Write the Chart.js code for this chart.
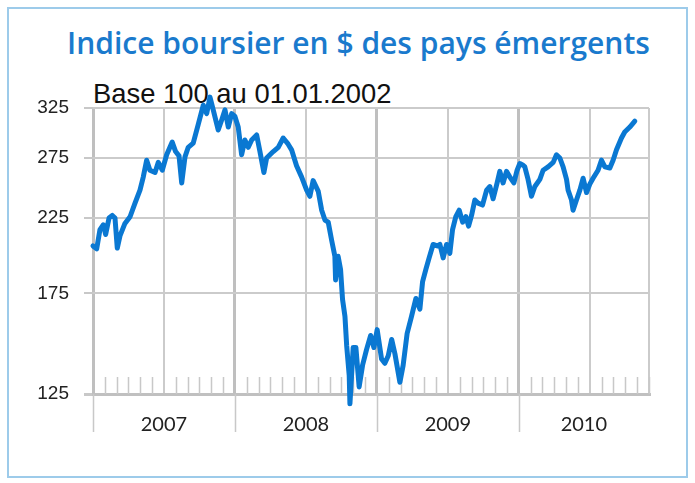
<!DOCTYPE html>
<html><head><meta charset="utf-8">
<script src="https://cdn.jsdelivr.net/npm/chart.js@4.4.0/dist/chart.umd.min.js"></script>
<style>
html,body{margin:0;padding:0;background:#fff;}
#wrap{position:relative;width:695px;height:483px;overflow:hidden;background:#fff;}
#frame{position:absolute;left:7px;top:7px;width:677px;height:467px;border:2px solid #9dcbea;}
#title{position:absolute;left:0;width:717px;text-align:center;top:23px;font:600 30px "Open Sans";color:#1a7acd;white-space:nowrap;line-height:40px;}
#sub{position:absolute;left:93px;top:79px;font:27.4px "Liberation Sans";color:#111;white-space:nowrap;line-height:30px;}
canvas{position:absolute;left:0;top:0;}
</style></head>
<body><div id="wrap">
<div id="frame"></div>
<div id="title">Indice boursier en $ des pays émergents</div>
<div id="sub">Base 100 au 01.01.2002</div>
<canvas id="c" width="695" height="483"></canvas>
</div>
<script>
// decimal years
const dates = [2007.000,2007.026,2007.049,2007.073,2007.089,2007.113,2007.136,2007.155,2007.171,2007.190,2007.225,2007.261,2007.296,2007.331,2007.354,2007.378,2007.401,2007.437,2007.460,2007.488,2007.519,2007.558,2007.582,2007.606,2007.625,2007.648,2007.671,2007.706,2007.742,2007.777,2007.801,2007.824,2007.847,2007.882,2007.906,2007.930,2007.953,2007.977,2008.000,
2008.023,2008.047,2008.070,2008.094,2008.118,2008.153,2008.176,2008.204,2008.223,2008.270,2008.305,2008.340,2008.375,2008.399,2008.434,2008.470,2008.505,2008.528,2008.551,2008.587,2008.611,2008.634,2008.657,2008.681,2008.704,2008.709,2008.727,2008.744,2008.758,2008.775,2008.787,2008.805,2008.810,2008.833,2008.852,2008.875,2008.899,2008.927,2008.956,2008.979,
2009.002,2009.033,2009.056,2009.080,2009.104,2009.127,2009.162,2009.185,2009.213,2009.244,2009.275,2009.303,2009.322,2009.345,2009.368,2009.396,2009.425,2009.444,2009.467,2009.491,2009.514,2009.533,2009.556,2009.580,2009.604,2009.627,2009.646,2009.667,2009.690,2009.713,2009.744,2009.773,2009.796,2009.819,2009.847,2009.866,2009.889,2009.913,2009.937,2009.965,2009.988,
2010.007,2010.030,2010.042,2010.065,2010.089,2010.113,2010.148,2010.171,2010.206,2010.242,2010.265,2010.289,2010.312,2010.336,2010.347,2010.371,2010.382,2010.406,2010.430,2010.453,2010.477,2010.500,2010.523,2010.558,2010.582,2010.606,2010.641,2010.664,2010.688,2010.723,2010.746,2010.782,2010.817];
const values = [205,203,216.5,220,213,225,227,225,203.5,212,221,226,236.5,247,258,273,264,262,271,264,278,290,281,277,253,276,285,289,308,328,319,337,323,302,312,323,305,319,316,
305,278,292,285,292,297,281,262,275,281,285,294,288,282.6,268,258,247,242,255,246,231,223.5,222,209,198,183,198,189.5,171.5,162,147,133,121,146,146,128,137.6,145,152,146,
155,140.5,138.5,142,150,143,130,137.6,153,162,172,166,182,189.5,197,206,205,206,197,206,200,216.5,226,231,222,226,219,227,239,236.5,235,247,250,240,253,263,253,263,258,253,264,
270,268.5,267,256,242,250,256,264,267,271,278,275,267,256,247,239,231,239,247,257,245,252,257,264,273,267,266,273,282.6,294,300,305,311];

const yTicks = [125,175,225,275,325];
const years = [2007,2008,2009,2010];
const yearLabels = ['2007','2008','2009','2010'];
const yearLabelPos = [2007.5,2008.5,2009.5,2010.458];
const xMin = 2007, xMax = 2010.917;
const gridPos = [2007,2007.5,2008,2008.5,2009,2009.5,2010,2010.5,2010.917];

const isInt = v => Math.abs(v - Math.round(v)) < 1e-6;
const isGrid = v => gridPos.some(g => Math.abs(g - v) < 1e-6);

const decor = {
  id: 'decor',
  beforeDatasetsDraw(chart) {
    const {ctx, chartArea: a, scales: {x}} = chart;
    ctx.save();
    ctx.strokeStyle = '#c8c8c8';
    ctx.lineWidth = 1.5;
    ctx.beginPath();
    for (const yr of years) {
      for (let m = 1; m < 12; m++) {
        if (m === 6) continue;
        const v = yr + m / 12;
        if (v > xMax + 1e-3) break;
        const px = Math.round(x.getPixelForValue(v)) + 0.5;
        ctx.moveTo(px, a.bottom - 17);
        ctx.lineTo(px, a.bottom);
      }
    }
    for (const yr of years) {
      const px = Math.round(x.getPixelForValue(yr)) + 0.5;
      ctx.moveTo(px, a.bottom);
      ctx.lineTo(px, a.bottom + 38);
    }
    ctx.stroke();
    ctx.restore();
  }
};

new Chart(document.getElementById('c'), {
  type: 'line',
  data: {
    datasets: [{
      data: dates.map((d, i) => ({x: d, y: values[i]})),
      borderColor: '#0a78d2',
      borderWidth: 5,
      pointRadius: 0,
      tension: 0,
      clip: false,
      borderJoinStyle: 'round',
      borderCapStyle: 'round'
    }]
  },
  options: {
    responsive: false,
    animation: false,
    devicePixelRatio: 1,
    layout: {padding: {top: 108, right: 46, left: 0, bottom: 0}},
    plugins: {legend: {display: false}, tooltip: {enabled: false}},
    scales: {
      x: {
        type: 'linear',
        min: xMin, max: xMax,
        afterBuildTicks: s => { s.ticks = gridPos.concat([2010.458]).sort((p, q) => p - q).map(v => ({value: v})); },
        afterFit: s => { s.height = 89; },
        border: {display: true, color: '#c0c0c0', width: 3},
        grid: {
          drawTicks: false,
          color: c => isGrid(c.tick.value) ? (isInt(c.tick.value) ? '#bfbfbf' : '#cbcbcb') : 'rgba(0,0,0,0)',
          lineWidth: c => isInt(c.tick.value) ? 3 : 2
        },
        ticks: {
          autoSkip: false, maxRotation: 0, padding: 19,
          color: '#222',
          font: {family: 'Lato', size: 20},
          callback: v => { const i = yearLabelPos.findIndex(p => Math.abs(p - v) < 1e-6); return i >= 0 ? yearLabels[i] : ''; }
        }
      },
      y: {
        type: 'logarithmic',
        min: 125, max: 325,
        afterBuildTicks: s => { s.ticks = yTicks.map(v => ({value: v})); },
        afterFit: s => { s.width = 93; },
        border: {display: false},
        grid: {
          color: c => c.tick.value === 125 ? '#c0c0c0' : '#cbcbcb',
          lineWidth: c => c.tick.value === 125 ? 3 : 2,
          tickLength: 9,
          tickColor: '#c8c8c8'
        },
        ticks: {
          padding: 15,
          color: '#222',
          font: {family: 'Liberation Sans', size: 19},
          callback: v => String(v)
        }
      }
    }
  },
  plugins: [decor]
});
</script>
</body></html>
